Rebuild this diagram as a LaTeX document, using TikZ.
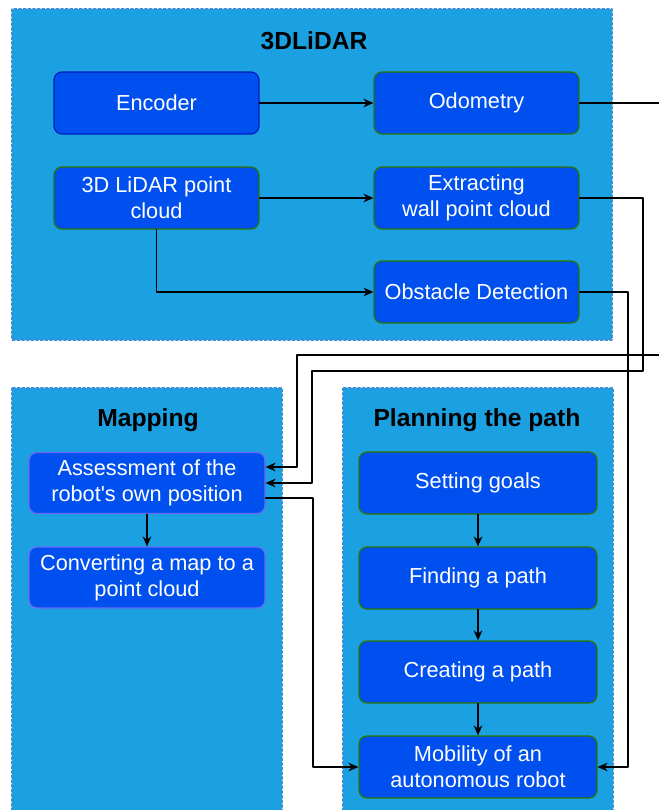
\documentclass[tikz,border=0pt]{standalone}
\usepackage{fontspec}
\setmainfont{Liberation Sans}
\usetikzlibrary{arrows.meta}

\definecolor{groupfill}{HTML}{1BA1E2}
\definecolor{groupline}{HTML}{3D8FD6}
\definecolor{boxfill}{HTML}{0050EF}
\definecolor{boxgreen}{HTML}{2D7600}
\definecolor{boxblue}{HTML}{001DBC}
\definecolor{boxviolet}{HTML}{6A6AF5}

\tikzset{
    group/.style={fill=groupfill, draw=groupline, dash pattern=on 2pt off 1.5pt, line width=0.8pt},
    grouptitle/.style={font=\fontsize{18.5}{22}\selectfont\bfseries, text=black},
    stepbox/.style={
        draw=boxgreen, fill=boxfill, rounded corners=6pt, line width=0.9pt,
        text=white, align=center, inner sep=2pt,
        font=\fontsize{16.3}{19.5}\selectfont,
        minimum width=153.75pt, minimum height=46.5pt
    },
    flow/.style={-{Stealth[length=7.5pt,width=6.5pt]}, line width=0.9pt, black}
}

\begin{document}
\begin{tikzpicture}[
    x=0.75pt,
    y=-0.75pt,
    line cap=round,
    line join=round
]
\useasboundingbox (0,0) rectangle (658,810);

% 3DLiDAR
\draw[group] (12,9) rectangle (612,340);
\node[grouptitle] (lidartitle) at (314,41) {3DLiDAR};

\node[stepbox, draw=boxblue] (enc) at (156.5,103) {Encoder};
\node[stepbox] (odo) at (476.5,103) {Odometry};
\node[stepbox] (cloud) at (156.5,198) {3D LiDAR point\\cloud};
\node[stepbox] (wall) at (476.5,198) {Extracting\\wall point cloud};
\node[stepbox] (obst) at (476.5,292) {Obstacle Detection};

% Mapping
\draw[group] (12,388) rectangle (282,815);
\node[grouptitle] (maptitle) at (148,420) {Mapping};

\node[stepbox, draw=boxviolet, minimum width=177pt, minimum height=45.75pt]
    (assess) at (147,483) {Assessment of the\\robot\textquotesingle s own position};
\node[stepbox, draw=boxviolet, minimum width=177pt, minimum height=45.75pt]
    (conv) at (147,577.5) {Converting a map to a\\point cloud};

% Planning the path
\draw[group] (343,388) rectangle (613,815);
\node[grouptitle] (plantitle) at (477,420) {Planning the path};

\node[stepbox, minimum width=178.5pt] (goal) at (478,483) {Setting goals};
\node[stepbox, minimum width=178.5pt] (find) at (478,578) {Finding a path};
\node[stepbox, minimum width=178.5pt] (create) at (478,672) {Creating a path};
\node[stepbox, minimum width=178.5pt] (mob) at (478,767) {Mobility of an\\autonomous robot};

% free ends at the right edge
\coordinate (odoout) at (662,103);
\coordinate (odoin) at (662,355);

% connectors
\draw[flow] (enc) -- (odo);
\draw[flow] (cloud) -- (wall);
\draw[flow] (cloud.south) |- (obst.west);
\draw[line width=0.9pt] (odo.east) -- (odoout);
\draw[flow] (odoin) -- (297,355) |- ([yshift=12pt]assess.east);
\draw[flow] (wall.east) -- (643,198) -- (643,371) -- (312,371) |- (assess.east);
\draw[flow] (obst.east) -- (628,292) |- (mob.east);
\draw[flow] ([yshift=-11.25pt]assess.east) -- (313,498) |- (mob.west);
\draw[flow] (assess) -- (conv);
\draw[flow] (goal) -- (find);
\draw[flow] (find) -- (create);
\draw[flow] (create) -- (mob);

\end{tikzpicture}
\end{document}
